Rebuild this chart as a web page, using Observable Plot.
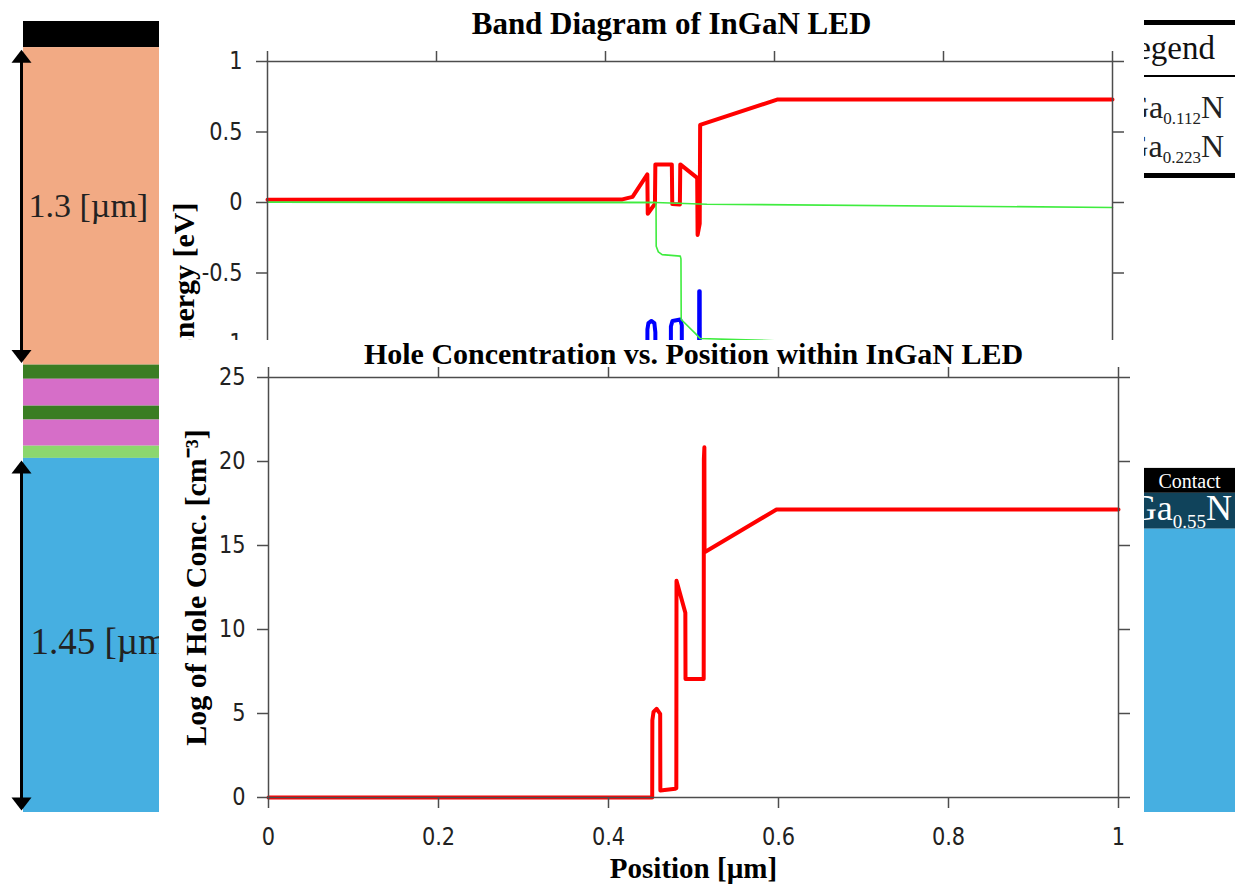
<!DOCTYPE html>
<html>
<head>
<meta charset="utf-8">
<script src="https://cdn.jsdelivr.net/npm/d3@7"></script>
<script src="https://cdn.jsdelivr.net/npm/@observablehq/plot@0.6"></script>
<style>
html, body { margin: 0; padding: 0; background: #fff; }
#page { position: relative; width: 1235px; height: 884px; overflow: hidden; background: #fff; }
.box { position: absolute; overflow: hidden; }
.serif { font-family: "Liberation Serif", "Times New Roman", serif; }
.lg { position: absolute; line-height: 1; white-space: nowrap; }
.sub { position: relative; }
</style>
</head>
<body>
<div id="page">
  <div id="leftStack" class="box" style="left:0;top:0;width:159px;height:884px"></div>
  <div id="rightStack" class="box" style="left:1144px;top:0;width:91px;height:884px"></div>
  <div id="legend" class="box serif" style="left:1144px;top:20px;width:91px;height:158px"></div>
  <div id="topChart" class="box" style="left:159px;top:0;width:985px;height:340px;background:#fff"></div>
  <div id="bottomChart" class="box" style="left:159px;top:340px;width:985px;height:544px;background:#fff"></div>
</div>
<script>
// ---------------- DATA ----------------
const positionTicks = [0, 0.2, 0.4, 0.6, 0.8, 1];
const energyTicks = [-1, -0.5, 0, 0.5, 1];
const concTicks = [0, 5, 10, 15, 20, 25];

// Band diagram [position µm, energy eV]
const conductionBand = [[0,0.02],[0.42,0.022],[0.432,0.04],[0.4495,0.2],[0.4500,-0.08],[0.4585,-0.01],[0.459,0.27],[0.4785,0.27],[0.479,-0.01],[0.488,-0.015],[0.4885,0.27],[0.5085,0.175],[0.509,-0.23],[0.5115,-0.15],[0.512,0.55],[0.603,0.73],[1,0.73]];
const electronQuasiFermi = [[0,0.002],[0.459,0],[0.52,-0.012],[1,-0.035]];
const holeQuasiFermi = [[0,0.002],[0.4598,0],[0.46,-0.31],[0.4625,-0.35],[0.467,-0.37],[0.4885,-0.38],[0.4893,-0.40],[0.4896,-0.83],[0.5065,-0.93],[0.512,-0.965],[0.6,-0.98],[1,-1.03]];
const valenceBand = [[0,-3.4],[0.42,-3.38],[0.4494,-3.2],[0.4496,-0.9],[0.4508,-0.855],[0.4543,-0.84],[0.4578,-0.855],[0.459,-0.92],[0.4592,-3.1],[0.4772,-3.1],[0.4774,-0.88],[0.4792,-0.84],[0.4885,-0.83],[0.4903,-0.87],[0.4905,-3.1],[0.5105,-3.0],[0.5109,-0.63],[0.5115,-0.63],[0.5119,-2.9],[0.603,-2.65],[1,-2.65]];

// Hole concentration [position µm, log10 cm^-3]
const holeConc = [[0,0],[0.4514,0],[0.4516,4.6],[0.453,5.1],[0.4565,5.28],[0.4608,4.98],[0.461,0.42],[0.4786,0.52],[0.4798,0.55],[0.48,12.9],[0.4904,11.0],[0.4906,7.06],[0.512,7.06],[0.5122,20.15],[0.5128,20.85],[0.513,14.6],[0.5976,17.14],[1,17.14]];

// Device layer stacks (thickness in µm, top to bottom)
const leftLayerIds = ["contact", "topLayer", "well1", "barrier1", "well2", "barrier2", "spacer", "bottomLayer"];
const leftLayerThickness = [0.107, 1.3, 0.058, 0.11, 0.057, 0.107, 0.05, 1.45];
const rightLayerIds = ["rContact", "rInGaN", "rBase"];
const rightLayerThickness = [0.102, 0.147, 1.16];
const dimensionLabels = ["1.3 [µm]", "1.45 [µm]"];
const dimensionLayers = ["topLayer", "bottomLayer"];

// ---------------- STYLE ----------------
const layerColor = {
  contact: "#000000", topLayer: "#F2AA84", well1: "#3A7D23", barrier1: "#D66EC8",
  well2: "#3A7D23", barrier2: "#D66EC8", spacer: "#8CD76E", bottomLayer: "#46AFE1",
  rContact: "#000000", rInGaN: "#10435B", rBase: "#46AFE1"
};
const serif = "'Liberation Serif', 'Times New Roman', serif";
const tickFont = "'DejaVu Sans', sans-serif";
const axisColor = "#4d4d4d";
const fmt = d => String(d);

// ---------------- STACKS ----------------
const total = d3.sum(leftLayerThickness);
function stack(ids, th, start) {
  let y = start;
  return ids.map((id, i) => { const r = {id, y1: y, y2: y + th[i]}; y += th[i]; return r; });
}
const leftRects = stack(leftLayerIds, leftLayerThickness, 0);
const rightRects = stack(rightLayerIds, rightLayerThickness, total - d3.sum(rightLayerThickness));
const arrows = dimensionLayers.map((id, i) => {
  const r = leftRects.find(d => d.id === id);
  return {y1: r.y1, y2: r.y2, label: dimensionLabels[i]};
});

const arrowHead = {
  draw(ctx, size) {
    const r = Math.sqrt(size / Math.PI);
    ctx.moveTo(0, 0); ctx.lineTo(r, 1.3 * r); ctx.lineTo(-r, 1.3 * r); ctx.closePath();
  }
};

const stackScales = {
  height: 884, marginTop: 21, marginBottom: 72,
  x: {domain: [0, 1], axis: null},
  y: {domain: [0, total], reverse: true, axis: null},
  color: {type: "identity"},
  style: {background: "transparent", overflow: "hidden"}
};

const leftPlot = Plot.plot({
  ...stackScales, width: 159, marginLeft: 23, marginRight: 0,
  marks: [
    Plot.rect(leftRects, {x1: 0, x2: 1, y1: "y1", y2: "y2", fill: d => layerColor[d.id]}),
    Plot.ruleX(arrows, {x: 0, y1: "y1", y2: "y2", dx: -2, stroke: "#000", strokeWidth: 3, insetTop: 10, insetBottom: 10}),
    Plot.dot(arrows, {x: 0, y: "y1", dx: -2, dy: 2, symbol: arrowHead, r: 10, fill: "#000", stroke: null}),
    Plot.dot(arrows, {x: 0, y: "y2", dx: -2, dy: -2, symbol: arrowHead, r: 10, rotate: 180, fill: "#000", stroke: null}),
    Plot.text([arrows[0]], {x: 0, y: d => (d.y1 + d.y2) / 2, text: "label", textAnchor: "start", dx: 5, dy: 0, fontSize: 34, fontFamily: serif, fill: "#222"}),
    Plot.text([arrows[1]], {x: 0, y: d => (d.y1 + d.y2) / 2, text: "label", textAnchor: "start", dx: 7, dy: 7, fontSize: 37, fontFamily: serif, fill: "#222"})
  ]
});
document.getElementById("leftStack").append(leftPlot);

const rightPlot = Plot.plot({
  ...stackScales, width: 91, marginLeft: 0, marginRight: 0,
  marks: [
    Plot.rect(rightRects, {x1: 0, x2: 1, y1: "y1", y2: "y2", fill: d => layerColor[d.id]})
  ]
});
const rs = document.getElementById("rightStack");
rs.append(rightPlot);
rs.insertAdjacentHTML("beforeend",
  `<div class="lg serif" style="left:0;width:91px;text-align:center;top:471px;font-size:20px;color:#fff">Contact</div>
   <div class="lg serif" style="right:3px;top:490px;font-size:36px;color:#fff">Ga<span class="sub" style="font-size:19px;top:8px">0.55</span>N</div>`);

// Legend table (partly hidden behind the chart)
document.getElementById("legend").innerHTML =
  `<div style="position:absolute;left:0;top:0;width:100%;height:5px;background:#000"></div>
   <div style="position:absolute;left:0;top:55px;width:100%;height:2px;background:#000"></div>
   <div style="position:absolute;left:0;top:153px;width:100%;height:5px;background:#000"></div>
   <div class="lg" style="right:20px;top:12px;font-size:33px;color:#111">Legend</div>
   <div class="lg" style="right:11px;top:71px;font-size:32px;color:#222">Ga<span class="sub" style="font-size:17px;top:6px">0.112</span>N</div>
   <div class="lg" style="right:11px;top:110px;font-size:32px;color:#222">Ga<span class="sub" style="font-size:17px;top:6px">0.223</span>N</div>`;

// ---------------- CHARTS ----------------
const axisCommon = {stroke: axisColor, strokeWidth: 1.5, tickSize: 11, label: null};
const tickText = {fontSize: 24, fontFamily: tickFont, fill: "#222", tickFormat: fmt};

// narrow the tick labels horizontally (reference uses a condensed face)
function condense(svg, k) {
  svg.querySelectorAll('g[aria-label$="tick label"] text').forEach(t => {
    const tr = t.getAttribute("transform");
    if (tr) t.setAttribute("transform", tr + ` scale(${k},1)`);
    else {
      const x = +(t.getAttribute("x") || 0), y = +(t.getAttribute("y") || 0);
      t.removeAttribute("x"); t.removeAttribute("y");
      t.setAttribute("transform", `translate(${x},${y}) scale(${k},1)`);
    }
  });
}

const topPlot = Plot.plot({
  width: 985, height: 400,
  marginLeft: 108, marginRight: 32, marginTop: 61, marginBottom: 57,
  x: {domain: [0, 1], axis: null},
  y: {domain: [-1, 1], axis: null},
  style: {background: "white", overflow: "hidden"},
  marks: [
    Plot.line(conductionBand, {x: d => d[0], y: d => d[1], stroke: "#ff0000", strokeWidth: 4}),
    Plot.line(valenceBand, {x: d => d[0], y: d => d[1], stroke: "#0000ff", strokeWidth: 4}),
    Plot.line(electronQuasiFermi, {x: d => d[0], y: d => d[1], stroke: "#3fec3f", strokeWidth: 1.6}),
    Plot.line(holeQuasiFermi, {x: d => d[0], y: d => d[1], stroke: "#3fec3f", strokeWidth: 1.6}),
    Plot.frame({stroke: axisColor, strokeWidth: 1.5}),
    Plot.axisY(energyTicks, {...axisCommon, ...tickText, anchor: "left", tickPadding: 14}),
    Plot.axisY(energyTicks, {...axisCommon, anchor: "right", fill: "none"}),
    Plot.axisX(positionTicks, {...axisCommon, anchor: "top", fill: "none"}),
    Plot.text(["Band Diagram of InGaN LED"], {text: d => d, frameAnchor: "top", dx: -18.5, dy: -28, lineAnchor: "bottom", fontSize: 31, fontWeight: "bold", fontFamily: serif, fill: "#000"}),
    Plot.text(["Energy [eV]"], {text: d => d, frameAnchor: "top-left", rotate: -90, textAnchor: "end", lineAnchor: "bottom", dx: -74, dy: 141, fontSize: 30, fontWeight: "bold", fontFamily: serif, fill: "#000"})
  ]
});
condense(topPlot, 0.87);
document.getElementById("topChart").append(topPlot);

const bottomPlot = Plot.plot({
  width: 985, height: 544,
  marginLeft: 109, marginRight: 26, marginTop: 37, marginBottom: 87,
  x: {domain: [0, 1], axis: null},
  y: {domain: [0, 25], axis: null},
  style: {background: "white", overflow: "hidden"},
  marks: [
    Plot.line(holeConc, {x: d => d[0], y: d => d[1], stroke: "#ff0000", strokeWidth: 4}),
    Plot.frame({stroke: axisColor, strokeWidth: 1.5}),
    Plot.axisY(concTicks, {...axisCommon, ...tickText, anchor: "left", tickPadding: 12}),
    Plot.axisY(concTicks, {...axisCommon, anchor: "right", fill: "none"}),
    Plot.axisX(positionTicks, {...axisCommon, ...tickText, anchor: "bottom", tickPadding: 19}),
    Plot.axisX(positionTicks, {...axisCommon, anchor: "top", fill: "none"}),
    Plot.text(["Hole Concentration vs. Position within InGaN LED"], {text: d => d, frameAnchor: "top", dy: -14, lineAnchor: "bottom", fontSize: 30, fontWeight: "bold", fontFamily: serif, fill: "#000"}),
    Plot.text(["Log of Hole Conc. [cm⁻³]"], {text: d => d, frameAnchor: "left", rotate: -90, textAnchor: "middle", lineAnchor: "bottom", dx: -63, fontSize: 30, fontWeight: "bold", fontFamily: serif, fill: "#000"}),
    Plot.text(["Position [µm]"], {text: d => d, frameAnchor: "bottom", dy: 80, lineAnchor: "bottom", fontSize: 29, fontWeight: "bold", fontFamily: serif, fill: "#000"})
  ]
});
condense(bottomPlot, 0.87);
document.getElementById("bottomChart").append(bottomPlot);
</script>
</body>
</html>
